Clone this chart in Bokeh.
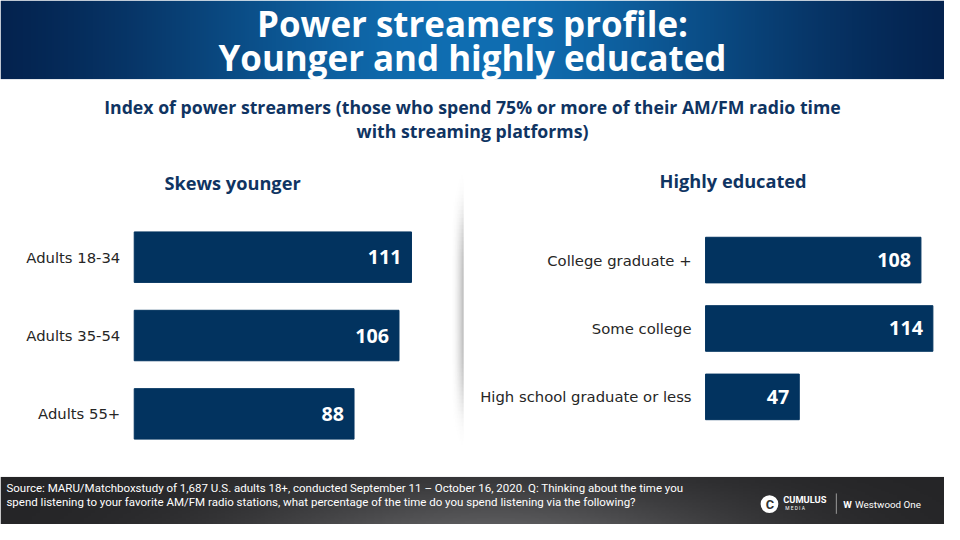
import numpy as np
from bokeh.plotting import figure
from bokeh.models import Range1d
from bokeh.core.properties import value
from bokeh.embed import file_html
from bokeh.resources import INLINE

# ---------------- data ----------------
age_groups = ["Adults 18-34", "Adults 35-54", "Adults 55+"]
age_index = [111, 106, 88]
edu_groups = ["College graduate +", "Some college", "High school graduate or less"]
edu_index = [108, 114, 47]

title_lines = ["Power streamers profile:", "Younger and highly educated"]
subtitle_lines = [
    "Index of power streamers (those who spend 75% or more of their AM/FM radio time",
    "with streaming platforms)",
]
panel_titles = ["Skews younger", "Highly educated"]
source_lines = [
    "Source: MARU/Matchboxstudy of 1,687 U.S. adults 18+, conducted September 11 \u2013 October 16, 2020. Q: Thinking about the time you",
    "spend listening to your favorite AM/FM radio stations, what percentage of the time do you spend listening via the following?",
]

# ---------------- layout ----------------
W, H = 944, 524          # figure size in screen px
RW, RH = 960, 540        # design coordinate space
FS = W / RW              # font scale

NAVY = "#02335f"
TXT_NAVY = "#0f3462"

p = figure(width=W, height=H, x_range=Range1d(0, RW), y_range=Range1d(RH, 0),
           output_backend="svg", toolbar_location=None, min_border=0,
           x_axis_location=None, y_axis_location=None)
p.grid.visible = False
p.outline_line_color = None
p.background_fill_color = "white"
p.border_fill_color = "white"


def px(size):
    return f"{size * FS:.1f}px"


def rgba_image(r, g, b, a):
    img = np.empty(r.shape, dtype=np.uint32)
    view = img.view(dtype=np.uint8).reshape(r.shape + (4,))
    view[..., 0] = np.clip(r, 0, 255)
    view[..., 1] = np.clip(g, 0, 255)
    view[..., 2] = np.clip(b, 0, 255)
    view[..., 3] = np.clip(a, 0, 255)
    return img


# header gradient band
cols = np.linspace(-1, 1, 480)
t = np.exp(-(cols / 0.72) ** 2)
rows = np.ones((8, 1))
hr = (2 + 14 * t) * rows
hg = (22 + 88 * t) * rows
hb = (62 + 116 * t) * rows
p.image_rgba(image=[rgba_image(hr, hg, hb, np.full(hr.shape, 255))], x=0, y=0, dw=RW, dh=81)

# footer gradient band
fx = np.linspace(-1, 1, 240)[None, :]
fy = np.linspace(0, 1, 30)[:, None]
glow = np.exp(-((fx - 0.05) / 0.55) ** 2) * (0.35 + 0.65 * fy)
fv = 36 + 55 * glow
p.image_rgba(image=[rgba_image(fv, fv, fv + 2, np.full(fv.shape, 255))], x=0, y=491, dw=RW, dh=49)

# separator shadow
sx = np.linspace(0, 1, 14)[None, :]
sy = np.linspace(-1, 1, 80)[:, None]
sa = 190 * (sx ** 2.0) * np.exp(-(sy / 0.62) ** 4)
sg = np.full(sa.shape, 150.0)
p.image_rgba(image=[rgba_image(sg, sg, sg, sa)], x=457, y=160, dw=14, dh=318)

# title
p.text(x=[480, 480], y=[23.5, 58.5], text=title_lines, text_align="center", text_baseline="middle",
       text_color="white", text_font=value("Open Sans"), text_font_style="bold",
       text_font_size=px(35.5))

# subtitle
p.text(x=[480, 480], y=[110, 134], text=subtitle_lines, text_align="center", text_baseline="middle",
       text_color=TXT_NAVY, text_font=value("Open Sans"), text_font_style="bold",
       text_font_size=px(18))

# panel titles
p.text(x=[236, 745], y=[188, 186], text=panel_titles, text_align="center", text_baseline="middle",
       text_color=TXT_NAVY, text_font=value("Open Sans"), text_font_style="bold",
       text_font_size=px(18.5))


# ---------------- bar panels ----------------
def panel_ranges(zero_px, px_per_unit, first_center, spacing):
    x0 = -zero_px / px_per_unit
    x1 = x0 + RW / px_per_unit
    ytop = -first_center / spacing
    ybot = ytop + RH / spacing
    return Range1d(x0, x1), Range1d(ybot, ytop)


lx, ly = panel_ranges(136, 2.54, 264.5, 80.75)
rx, ry = panel_ranges(717, 2.028, 267.5, 70.5)
p.extra_x_ranges = {"lx": lx, "rx": rx}
p.extra_y_ranges = {"ly": ly, "ry": ry}

panels = [
    (age_groups, age_index, "lx", "ly", 52 / 80.75),
    (edu_groups, edu_index, "rx", "ry", 47 / 70.5),
]
for groups, vals, xr, yr, hgt in panels:
    pos = list(range(len(groups)))
    p.hbar(y=pos, left=0, right=vals, height=hgt, color=NAVY,
           x_range_name=xr, y_range_name=yr)
    p.text(x=vals, y=pos, text=[str(v) for v in vals], x_offset=-10,
           text_align="right", text_baseline="middle", text_color="white",
           text_font=value("Open Sans"), text_font_style="bold", text_font_size=px(20),
           x_range_name=xr, y_range_name=yr)
    p.text(x=[0] * len(groups), y=pos, text=groups, x_offset=-14,
           text_align="right", text_baseline="middle", text_color="#262626",
           text_font=value("DejaVu Sans"), text_font_size=px(15),
           x_range_name=xr, y_range_name=yr)

# ---------------- footer ----------------
p.text(x=[6, 6], y=[502, 517], text=source_lines, text_align="left", text_baseline="middle",
       text_color="white", text_font=value("Roboto"), text_font_size=px(11.7))

# logos
p.scatter(x=[782], y=[519], size=18 * FS, marker="circle", fill_color="white", line_color=None)
p.text(x=[782.5], y=[519.5], text=["C"], text_align="center", text_baseline="middle",
       text_color="#333333", text_font=value("Roboto"), text_font_style="bold",
       text_font_size=px(13))
p.text(x=[796], y=[514], text=["CUMULUS"], text_align="left", text_baseline="middle",
       text_color="white", text_font=value("Roboto"), text_font_style="bold",
       text_font_size=px(9.5))
p.text(x=[798], y=[523], text=["M  E  D  I  A"], text_align="left", text_baseline="middle",
       text_color="white", text_font=value("Roboto"), text_font_size=px(5))
p.segment(x0=[850], y0=[508], x1=[850], y1=[529], line_color="#9a9a9a", line_width=1)
p.text(x=[857], y=[519], text=["\u0057"], text_align="left", text_baseline="middle",
       text_color="white", text_font=value("Roboto"), text_font_style="bold",
       text_font_size=px(10))
p.text(x=[869], y=[519], text=["Westwood One"], text_align="left", text_baseline="middle",
       text_color="white", text_font=value("Roboto"), text_font_size=px(10))

open("out.html", "w").write(file_html(p, INLINE))
